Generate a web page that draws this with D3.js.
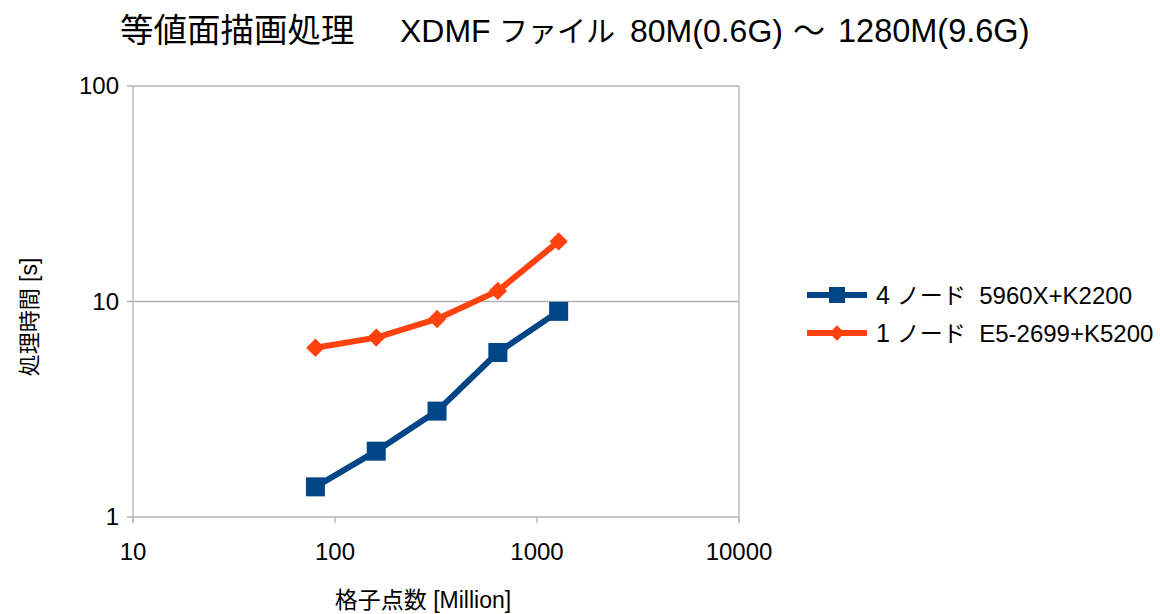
<!DOCTYPE html>
<html>
<head>
<meta charset="utf-8">
<script src="https://cdn.jsdelivr.net/npm/d3@7"></script>
<style>
  html, body { margin: 0; padding: 0; background: #fff; }
  svg { display: block; }
  text { font-family: "Liberation Sans", "Noto Sans CJK JP", sans-serif; fill: #000; white-space: pre; }
  .cjk { font-family: "Noto Sans CJK JP", sans-serif; }
</style>
</head>
<body>
<svg id="chart" width="1160" height="614"></svg>
<script>
// Grid sizes (million points) and processing times (seconds)
const gridPoints = [80, 160, 320, 640, 1280];
const fourNodeTimes = [1.38, 2.02, 3.1, 5.8, 9.0];
const oneNodeTimes = [6.1, 6.8, 8.3, 11.2, 19.0];
const seriesNodes = ["4 ノード", "1 ノード"];
const seriesHardware = ["5960X+K2200", "E5-2699+K5200"];
const xTicks = [10, 100, 1000, 10000];
const yTicks = [1, 10, 100];
// title pieces: [text, isCJK, left x, font size]
const titleParts = [
  ["等値面描画処理", true, 120, 33.5],
  ["XDMF", false, 400, 32],
  ["ファイル", true, 499, 29],
  ["80M(0.6G)", false, 630, 32],
  ["～", true, 793, 32],
  ["1280M(9.6G)", false, 838, 32.5]
];
const xTitle = ["格子点数", " [Million]"];
const yTitle = ["処理時間", " [s]"];

const svg = d3.select("#chart");
const plotLeft = 133, plotRight = 739, plotTop = 86, plotBottom = 517;
const gridColor = "#b3b3b3";

const x = d3.scaleLog().domain([10, 10000]).range([plotLeft, plotRight]);
const y = d3.scaleLog().domain([1, 100]).range([plotBottom, plotTop]);

// Horizontal gridlines
svg.append("g").selectAll("line").data(yTicks).join("line")
  .attr("x1", plotLeft - 6).attr("x2", plotRight)
  .attr("y1", d => y(d)).attr("y2", d => y(d))
  .attr("stroke", gridColor).attr("stroke-width", 1.3);

// Left and right frame lines
svg.append("line").attr("x1", plotLeft).attr("x2", plotLeft).attr("y1", plotTop).attr("y2", plotBottom + 6)
  .attr("stroke", gridColor).attr("stroke-width", 1.3);
svg.append("line").attr("x1", plotRight).attr("x2", plotRight).attr("y1", plotTop).attr("y2", plotBottom + 6)
  .attr("stroke", gridColor).attr("stroke-width", 1.3);

// X tick marks
svg.append("g").selectAll("line").data(xTicks).join("line")
  .attr("x1", d => x(d)).attr("x2", d => x(d))
  .attr("y1", plotBottom).attr("y2", plotBottom + 6)
  .attr("stroke", gridColor).attr("stroke-width", 1.3);

// Tick labels
svg.append("g").selectAll("text").data(xTicks).join("text")
  .attr("x", d => x(d)).attr("y", plotBottom + 43)
  .attr("text-anchor", "middle").attr("font-size", 24)
  .text(d => d);
svg.append("g").selectAll("text").data(yTicks).join("text")
  .attr("x", plotLeft - 14).attr("y", d => y(d) + 8)
  .attr("text-anchor", "end").attr("font-size", 24)
  .text(d => d);

// Chart title
const title = svg.append("text").attr("y", 42);
titleParts.forEach(([t, cjk, px, fs]) => {
  title.append("tspan").attr("x", px)
    .attr("class", cjk ? "cjk" : null)
    .attr("font-size", fs)
    .text(t);
});

// Axis titles
const xt = svg.append("text").attr("x", 423).attr("y", 608).attr("text-anchor", "middle");
xt.append("tspan").attr("class", "cjk").attr("font-size", 23).text(xTitle[0]);
xt.append("tspan").attr("font-size", 23).text(xTitle[1]);
const yt = svg.append("text").attr("transform", "translate(37,317) rotate(-90)").attr("text-anchor", "middle");
yt.append("tspan").attr("class", "cjk").attr("font-size", 22).text(yTitle[0]);
yt.append("tspan").attr("font-size", 23).text(yTitle[1]);

const line = d3.line().x(d => x(d[0])).y(d => y(d[1]));
const series = [
  { node: seriesNodes[0], hw: seriesHardware[0], values: fourNodeTimes, color: "#004586",
    rot: 0, size: 19 * 19, legendSize: 16 * 16 },
  { node: seriesNodes[1], hw: seriesHardware[1], values: oneNodeTimes, color: "#ff420e",
    rot: 45, size: 13 * 13, legendSize: 11 * 11 }
];

series.forEach((s, i) => {
  const pts = gridPoints.map((g, j) => [g, s.values[j]]);
  svg.append("path").datum(pts).attr("d", line)
    .attr("fill", "none").attr("stroke", s.color).attr("stroke-width", 6)
    .attr("stroke-linejoin", "round");
  const sym = d3.symbol().type(d3.symbolSquare).size(s.size);
  svg.append("g").selectAll("path").data(pts).join("path")
    .attr("transform", d => `translate(${x(d[0])},${y(d[1])}) rotate(${s.rot})`)
    .attr("d", sym).attr("fill", s.color);

  // Legend entry
  const ly = 295 + i * 38;
  svg.append("line").attr("x1", 807).attr("x2", 867).attr("y1", ly).attr("y2", ly)
    .attr("stroke", s.color).attr("stroke-width", 6);
  svg.append("path").attr("transform", `translate(837,${ly}) rotate(${s.rot})`)
    .attr("d", d3.symbol().type(d3.symbolSquare).size(s.legendSize)).attr("fill", s.color);
  const lt = svg.append("text").attr("x", 876).attr("y", ly + 9);
  lt.append("tspan").attr("font-size", 25).text(s.node.slice(0, 2));
  lt.append("tspan").attr("class", "cjk").attr("font-size", 23).text(s.node.slice(2));
  lt.append("tspan").attr("font-size", 24).text("  " + s.hw);
});
</script>
</body>
</html>
